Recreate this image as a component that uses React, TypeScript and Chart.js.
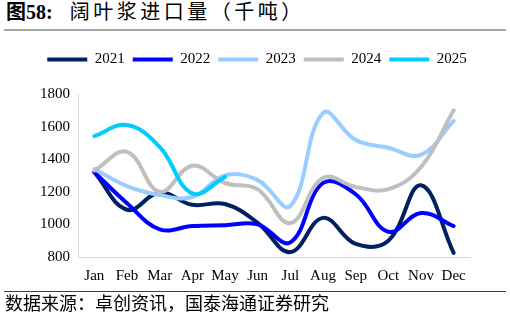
import React, { useEffect, useRef } from "react";
import { Chart, registerables } from "chart.js";

Chart.register(...registerables);

const months = ["Jan", "Feb", "Mar", "Apr", "May", "Jun", "Jul", "Aug", "Sep", "Oct", "Nov", "Dec"];
const seriesNames = ["2021", "2022", "2023", "2024", "2025"];
const s2021 = [1320, 1090, 1195, 1120, 1125, 1010, 830, 1040, 880, 900, 1240, 825];
const s2022 = [1320, 1130, 970, 990, 995, 1000, 890, 1254, 1185, 955, 1070, 990];
const s2023 = [1340, 1235, 1180, 1168, 1300, 1272, 1113, 1683, 1518, 1470, 1427, 1635];
const s2024 = [1330, 1445, 1200, 1360, 1254, 1215, 1008, 1285, 1230, 1216, 1352, 1700];
const s2025 = [1542, 1610, 1475, 1190, 1290];
const seriesColors = ["#002060", "#0000FF", "#99CCFF", "#BFBFBF", "#00CCFF"];
const yTicks = [800, 1000, 1200, 1400, 1600, 1800];

const serif = '"Liberation Serif", "Times New Roman", "Noto Sans CJK SC", serif';
const cjk = '"Liberation Serif", "Noto Sans CJK SC", serif';

const legendTweaks = {
  id: "legendTweaks",
  beforeInit(chart: any) {
    const orig = chart.legend.fit;
    chart.legend.fit = function () {
      orig.bind(chart.legend)();
      this.height += 17;
    };
  },
  afterLayout(chart: any) {
    if (chart.legend) {
      chart.legend.left += 22;
      chart.legend.right += 22;
    }
  },
};

export default function App() {
  const ref = useRef<HTMLCanvasElement | null>(null);

  useEffect(() => {
    document.body.style.margin = "0";
    const all = [s2021, s2022, s2023, s2024, s2025];
    const chart = new Chart(ref.current as HTMLCanvasElement, {
      type: "line",
      data: {
        labels: months,
        datasets: all.map((d, i) => ({
          label: seriesNames[i],
          data: d,
          borderColor: seriesColors[i],
          backgroundColor: seriesColors[i],
          borderWidth: 4,
          borderCapStyle: "round",
          borderJoinStyle: "round",
          pointRadius: 0,
          pointHoverRadius: 0,
          tension: 0.4,
          fill: false,
          order: 10 - i,
        })),
      },
      options: {
        responsive: false,
        animation: false,
        layout: { padding: { top: 8, right: 40, left: 0, bottom: 0 } },
        plugins: {
          tooltip: { enabled: false },
          legend: {
            position: "top",
            labels: {
              usePointStyle: true,
              pointStyle: "line",
              pointStyleWidth: 40,
              boxWidth: 40,
              padding: 8,
              color: "#000",
              font: { family: serif, size: 15 },
              sort: (a: any, b: any) => a.datasetIndex - b.datasetIndex,
            },
          },
        },
        scales: {
          x: {
            offset: true,
            grid: { display: false, drawTicks: false },
            border: { color: "#D9D9D9", width: 1 },
            ticks: { color: "#000", font: { family: serif, size: 15 }, padding: 10, maxRotation: 0, autoSkip: false },
            afterFit: (s: any) => {
              s.height = 35;
            },
          },
          y: {
            min: 800,
            max: 1800,
            grid: { display: false, drawTicks: false },
            border: { color: "#D9D9D9", width: 1 },
            afterBuildTicks: (s: any) => {
              s.ticks = yTicks.map((v) => ({ value: v }));
            },
            ticks: {
              color: "#000",
              font: { family: serif, size: 15 },
              padding: 8,
              callback: (v: any) => String(v),
            },
            afterFit: (s: any) => {
              s.width = 78;
            },
          },
        },
      },
      plugins: [legendTweaks],
    });
    return () => chart.destroy();
  }, []);

  return (
    <div style={{ position: "fixed", left: 0, top: 0, width: 510, height: 325, background: "#fff", overflow: "hidden" }}>
      <div style={{ position: "absolute", left: 6, top: 2, fontFamily: cjk, fontSize: 20, color: "#000", whiteSpace: "nowrap", lineHeight: "20px" }}>
        <span style={{ fontWeight: "bold" }}>图58:</span>
        <span style={{ display: "inline-block", width: 17 }} />
        <span style={{ letterSpacing: "3.5px" }}>阔叶浆进口量（千吨）</span>
      </div>
      <div style={{ position: "absolute", left: 4, top: 29, width: 502, height: 2, background: "#A6A6A6" }} />
      <div style={{ position: "absolute", left: 0, top: 36, width: 510, height: 256 }}>
        <canvas ref={ref} width={510} height={256} />
      </div>
      <div style={{ position: "absolute", left: 4, top: 291, width: 502, height: 1, background: "#404040" }} />
      <div style={{ position: "absolute", left: 5, top: 295, fontFamily: cjk, fontSize: 18, color: "#000", whiteSpace: "nowrap", lineHeight: "18px" }}>
        数据来源：卓创资讯，国泰海通证券研究
      </div>
    </div>
  );
}
